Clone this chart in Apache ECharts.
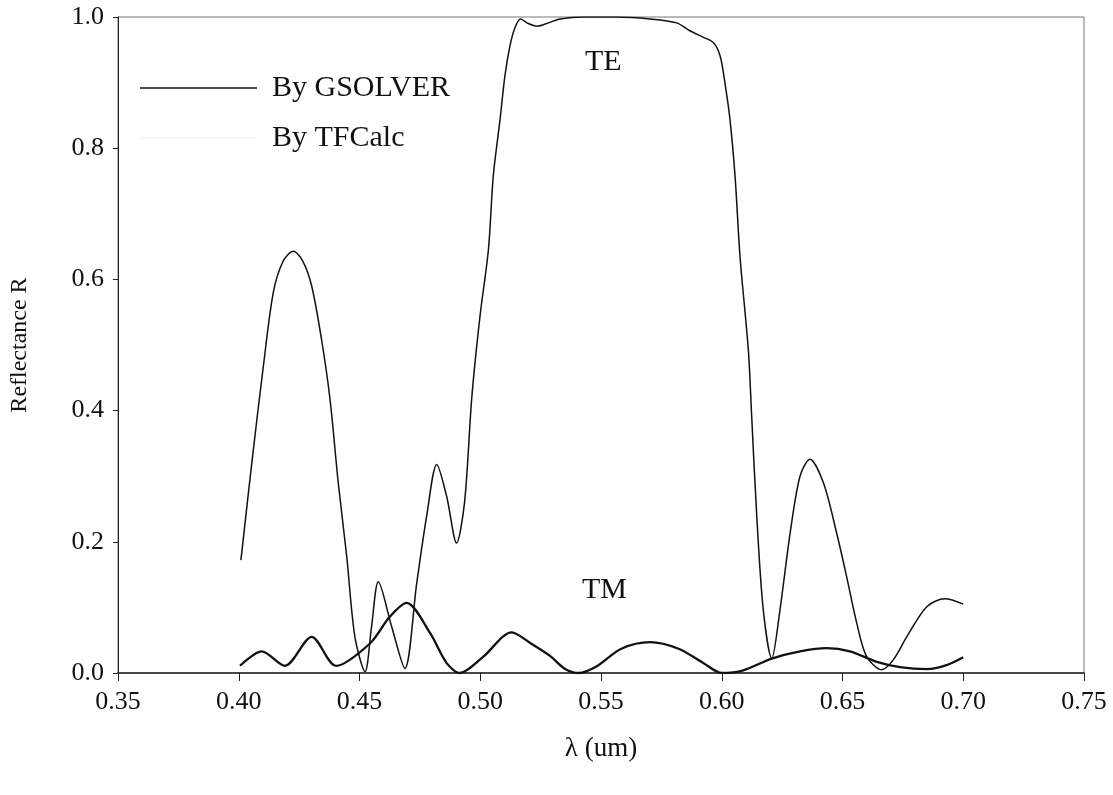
<!DOCTYPE html>
<html>
<head>
<meta charset="utf-8">
<script src="https://cdn.jsdelivr.net/npm/echarts@6/dist/echarts.min.js"></script>
<style>
  html, body { margin: 0; padding: 0; background: #fff; }
  #grafico { width: 1113px; height: 795px; }
</style>
</head>
<body>
<div id="grafico"></div>
<script>
/* valores */
var xTicks = [0.35, 0.40, 0.45, 0.50, 0.55, 0.60, 0.65, 0.70, 0.75];
var yTicks = [0.0, 0.2, 0.4, 0.6, 0.8, 1.0];

// TE - By GSOLVER
var teWl = [0.4009, 0.4054, 0.4102, 0.4143, 0.4184, 0.4226, 0.4265, 0.4302, 0.4343, 0.4378,
            0.4412, 0.4447, 0.4481, 0.4523, 0.4550, 0.4578, 0.4633, 0.4688, 0.4737, 0.4778,
            0.4820, 0.4861, 0.4902, 0.4935, 0.4965, 0.4999, 0.5034, 0.5054, 0.5082, 0.5102,
            0.5123, 0.5144, 0.5167, 0.5199, 0.5236, 0.5282, 0.5330, 0.5427, 0.5565, 0.5703,
            0.5813, 0.5868, 0.5924, 0.5965, 0.5993, 0.6013, 0.6034, 0.6055, 0.6076, 0.6110,
            0.6124, 0.6145, 0.6172, 0.6207, 0.6241, 0.6283, 0.6324, 0.6365, 0.6421, 0.6476,
            0.6517, 0.6559, 0.6600, 0.6662, 0.6710, 0.6766, 0.6849, 0.6924, 0.7000];
var teR  = [0.172, 0.320, 0.468, 0.580, 0.628, 0.643, 0.628, 0.590, 0.508, 0.417,
            0.290, 0.178, 0.055, 0.002, 0.071, 0.139, 0.071, 0.007, 0.137, 0.239,
            0.318, 0.269, 0.198, 0.260, 0.420, 0.544, 0.646, 0.758, 0.844, 0.910,
            0.956, 0.984, 0.997, 0.990, 0.986, 0.991, 0.997, 1.000, 1.000, 0.997,
            0.991, 0.979, 0.969, 0.961, 0.941, 0.900, 0.844, 0.758, 0.633, 0.493,
            0.391, 0.239, 0.096, 0.022, 0.096, 0.213, 0.300, 0.326, 0.290, 0.213,
            0.147, 0.076, 0.025, 0.005, 0.020, 0.055, 0.101, 0.113, 0.105];

// TM - By GSOLVER
var tmWl = [0.4005, 0.4095, 0.4191, 0.4302, 0.4403, 0.4543, 0.4626, 0.4695, 0.4792, 0.4861,
            0.4916, 0.5013, 0.5130, 0.5210, 0.5289, 0.5348, 0.5407, 0.5481, 0.5584, 0.5703,
            0.5821, 0.5925, 0.6000, 0.6089, 0.6207, 0.6324, 0.6435, 0.6531, 0.6642, 0.6738,
            0.6849, 0.6931, 0.7000];
var tmR  = [0.011, 0.033, 0.011, 0.055, 0.011, 0.045, 0.086, 0.107, 0.061, 0.015,
            0.000, 0.025, 0.062, 0.045, 0.026, 0.007, 0.000, 0.010, 0.037, 0.047,
            0.037, 0.015, 0.000, 0.004, 0.022, 0.033, 0.038, 0.033, 0.017, 0.009,
            0.006, 0.012, 0.024];

function pares(xs, ys) {
    var out = [];
    for (var i = 0; i < xs.length; i++) {
        out.push([xs[i], ys[i]]);
    }
    return out;
}

var serif = "'Liberation Serif', 'Times New Roman', serif";

var dom = document.getElementById("grafico");
var myChart = echarts.init(dom);

var option = {
    animation: false,
    backgroundColor: '#fff',
    grid: {
        left: 118,
        right: 29,
        top: 17,
        bottom: 122,
        show: true,
        borderColor: '#777',
        borderWidth: 1
    },
    legend: {
        orient: 'vertical',
        left: 135,
        top: 68,
        icon: 'rect',
        itemWidth: 117,
        itemHeight: 1.5,
        itemGap: 20,
        data: ['By GSOLVER', 'By TFCalc'],
        textStyle: {
            fontFamily: serif,
            fontSize: 30,
            color: '#111',
            lineHeight: 30,
            padding: [0, 0, 0, 10]
        }
    },
    xAxis: {
        type: 'value',
        min: xTicks[0],
        max: xTicks[xTicks.length - 1],
        interval: 0.05,
        name: 'λ (um)',
        nameLocation: 'middle',
        nameGap: 62,
        nameTextStyle: { fontFamily: serif, fontSize: 27, color: '#111' },
        axisLine: { lineStyle: { color: '#222', width: 1.5 } },
        axisTick: { inside: false, length: 8, lineStyle: { color: '#222' } },
        axisLabel: {
            fontFamily: serif,
            fontSize: 26,
            color: '#111',
            margin: 16,
            formatter: function (v) { return v.toFixed(2); }
        },
        splitLine: { show: false }
    },
    yAxis: {
        type: 'value',
        min: yTicks[0],
        max: yTicks[yTicks.length - 1],
        interval: 0.2,
        name: 'Reflectance R',
        nameLocation: 'middle',
        nameRotate: 90,
        nameGap: 86,
        nameTextStyle: { fontFamily: serif, fontSize: 24, color: '#111', padding: [0, 0, 0, 0] },
        axisLine: { show: true, lineStyle: { color: '#222', width: 1 } },
        axisTick: { show: true, length: 5, lineStyle: { color: '#222' } },
        axisLabel: {
            fontFamily: serif,
            fontSize: 26,
            color: '#111',
            margin: 14,
            formatter: function (v) { return v.toFixed(1); }
        },
        splitLine: { show: false }
    },
    graphic: [
        { type: 'text', left: 585, top: 47, style: { text: 'TE', font: '30px ' + serif, fill: '#111' } },
        { type: 'text', left: 582, top: 575, style: { text: 'TM', font: '30px ' + serif, fill: '#111' } }
    ],
    series: [
        {
            name: 'By TFCalc',
            type: 'line',
            symbol: 'none',
            smooth: 0.3,
            z: 1,
            lineStyle: { color: '#e6e6e6', width: 1, type: 'dotted' },
            itemStyle: { color: '#f4f4f4' },
            data: pares(teWl, teR)
        },
        {
            name: 'By TFCalc',
            type: 'line',
            symbol: 'none',
            smooth: 0.3,
            z: 1,
            lineStyle: { color: '#e6e6e6', width: 1, type: 'dotted' },
            itemStyle: { color: '#f4f4f4' },
            data: pares(tmWl, tmR)
        },
        {
            name: 'By GSOLVER',
            type: 'line',
            symbol: 'none',
            smooth: 0.3,
            z: 3,
            lineStyle: { color: '#111', width: 1.5 },
            itemStyle: { color: '#111' },
            data: pares(teWl, teR)
        },
        {
            name: 'By GSOLVER',
            type: 'line',
            symbol: 'none',
            smooth: 0.3,
            z: 3,
            lineStyle: { color: '#111', width: 2.3 },
            itemStyle: { color: '#111' },
            data: pares(tmWl, tmR)
        }
    ]
};

if (option && typeof option === "object") {
    myChart.setOption(option, true);
}
</script>
</body>
</html>
